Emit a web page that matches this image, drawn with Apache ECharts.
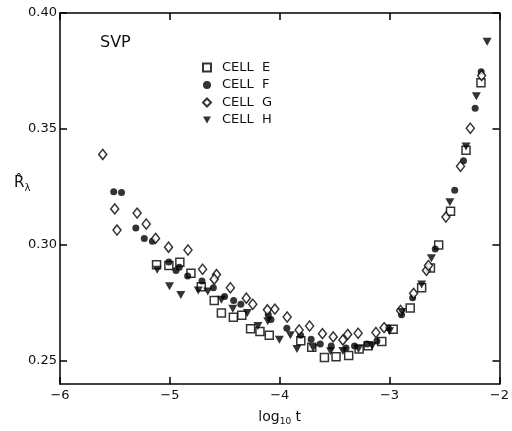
<!DOCTYPE html>
<html>
<head>
<meta charset="utf-8">
<script src="https://cdn.jsdelivr.net/npm/echarts@6/dist/echarts.min.js"></script>
<style>html,body{margin:0;padding:0;background:#fff;}#c{width:512px;height:431px;}</style>
</head>
<body>
<div id="c"></div>
<script>
// Tick labels
const xTicks = [-6, -5, -4, -3, -2];
const yTicks = [0.25, 0.30, 0.35, 0.40];
const seriesNames = ['CELL E', 'CELL F', 'CELL G', 'CELL H'];

// CELL E (open squares)
const eX = [-5.121, -5.009, -4.909, -4.808, -4.714, -4.596, -4.531, -4.422, -4.345, -4.265, -4.180, -4.095, -3.808, -3.708, -3.593, -3.487, -3.372, -3.277, -3.195, -3.071, -2.967, -2.812, -2.708, -2.628, -2.553, -2.445, -2.304, -2.168];
const eY = [0.2914, 0.2911, 0.2925, 0.2878, 0.2819, 0.2760, 0.2706, 0.2688, 0.2696, 0.2638, 0.2626, 0.2610, 0.2586, 0.2559, 0.2514, 0.2517, 0.2523, 0.2551, 0.2565, 0.2583, 0.2636, 0.2728, 0.2815, 0.2900, 0.3000, 0.3145, 0.3408, 0.3699];

// CELL F (filled circles)
const fX = [-5.511, -5.440, -5.310, -5.233, -5.159, -5.009, -4.914, -4.944, -4.838, -4.708, -4.604, -4.502, -4.419, -4.354, -4.104, -4.080, -3.935, -3.810, -3.714, -3.631, -3.531, -3.396, -3.319, -3.204, -3.115, -3.012, -2.891, -2.790, -2.584, -2.407, -2.327, -2.221, -2.166];
const fY = [0.3229, 0.3226, 0.3073, 0.3028, 0.3016, 0.2926, 0.2904, 0.2890, 0.2866, 0.2844, 0.2815, 0.2777, 0.2760, 0.2744, 0.2699, 0.2678, 0.2640, 0.2610, 0.2593, 0.2572, 0.2564, 0.2555, 0.2564, 0.2572, 0.2585, 0.2643, 0.2699, 0.2772, 0.2982, 0.3236, 0.3363, 0.3589, 0.3747];

// CELL G (open diamonds)
const gX = [-5.611, -5.502, -5.481, -5.298, -5.215, -5.130, -5.012, -4.835, -4.702, -4.575, -4.596, -4.449, -4.304, -4.245, -4.112, -4.044, -3.932, -3.823, -3.728, -3.611, -3.513, -3.425, -3.381, -3.286, -3.124, -3.050, -2.900, -2.781, -2.664, -2.646, -2.487, -2.354, -2.265, -2.162];
const gY = [0.3390, 0.3155, 0.3064, 0.3137, 0.3090, 0.3028, 0.2990, 0.2978, 0.2895, 0.2872, 0.2852, 0.2815, 0.2770, 0.2744, 0.2720, 0.2723, 0.2689, 0.2633, 0.2650, 0.2617, 0.2603, 0.2590, 0.2614, 0.2619, 0.2622, 0.2643, 0.2717, 0.2791, 0.2890, 0.2911, 0.3120, 0.3339, 0.3503, 0.3730];

// CELL H (filled down-triangles)
const hX = [-5.115, -5.003, -4.900, -4.741, -4.655, -4.531, -4.427, -4.295, -4.198, -4.109, -4.003, -3.903, -3.843, -3.696, -3.537, -3.425, -3.283, -3.159, -3.000, -2.888, -2.708, -2.619, -2.451, -2.304, -2.210, -2.112];
const hY = [0.2893, 0.2822, 0.2784, 0.2803, 0.2799, 0.2763, 0.2725, 0.2706, 0.2650, 0.2671, 0.2591, 0.2610, 0.2551, 0.2555, 0.2541, 0.2542, 0.2551, 0.2564, 0.2627, 0.2711, 0.2829, 0.2942, 0.3184, 0.3424, 0.3641, 0.3876];

const zip = (xs, ys) => xs.map((x, i) => [x, ys[i]]);
const FONT = 'DejaVu Sans';
const chart = echarts.init(document.getElementById('c'), null, {renderer: 'canvas'});

const axisLine = {show: true, lineStyle: {color: '#000', width: 1.5}};
const tickIn = {show: true, inside: true, length: 7, lineStyle: {color: '#000', width: 1.5}};

chart.setOption({
  animation: false,
  backgroundColor: '#fff',
  grid: {left: 60, right: 1, top: 13, bottom: 40, containLabel: false},
  legend: {
    orient: 'vertical', left: 202, top: 61, padding: 0, itemWidth: 8, itemHeight: 8, itemGap: 4.5,
    data: [
      {name: seriesNames[0], icon: 'rect'},
      {name: seriesNames[1], icon: 'circle'},
      {name: seriesNames[2], icon: 'diamond'},
      {name: seriesNames[3], icon: 'path://M0,0L10,0L5,9Z'}
    ],
    formatter: n => n.replace(' ', '  '),
    textStyle: {fontFamily: FONT, fontSize: 13, lineHeight: 13, color: '#111', padding: [0, 0, 0, 6]},
    selectedMode: false
  },
  xAxis: [
    {type: 'value', min: xTicks[0], max: xTicks[xTicks.length - 1], interval: 1, position: 'bottom',
     axisLine: axisLine, axisTick: tickIn, splitLine: {show: false},
     axisLabel: {fontFamily: FONT, fontSize: 13, color: '#111', margin: 5,
                 formatter: v => String(v).replace('-', '\u2212')},
     name: '{a|log}{b|10}{a| t}', nameLocation: 'middle', nameGap: 25,
     nameTextStyle: {rich: {a: {fontFamily: FONT, fontSize: 14, color: '#111'},
                            b: {fontFamily: FONT, fontSize: 9, color: '#111', verticalAlign: 'bottom', padding: [8, 0, 0, 0]}}}},
    {type: 'value', min: xTicks[0], max: xTicks[xTicks.length - 1], interval: 1, position: 'top',
     axisLine: axisLine, axisTick: tickIn, splitLine: {show: false}, axisLabel: {show: false}}
  ],
  yAxis: [
    {type: 'value', min: 0.24, max: 0.40, position: 'left',
     axisLine: axisLine, splitLine: {show: false},
     axisTick: Object.assign({}, tickIn, {customValues: yTicks}),
     axisLabel: {customValues: yTicks, fontFamily: FONT, fontSize: 13, color: '#111', margin: 3,
                 formatter: v => Number(v).toFixed(2)}},
    {type: 'value', min: 0.24, max: 0.40, position: 'right',
     axisLine: axisLine, splitLine: {show: false},
     axisTick: Object.assign({}, tickIn, {customValues: yTicks}),
     axisLabel: {show: false}}
  ],
  series: [
    {name: seriesNames[0], type: 'scatter', data: zip(eX, eY), symbol: 'rect', symbolSize: 8,
     itemStyle: {color: '#fff', borderColor: '#000', borderWidth: 1.5}},
    {name: seriesNames[1], type: 'scatter', data: zip(fX, fY), symbol: 'circle', symbolSize: 7,
     itemStyle: {color: '#000'}},
    {name: seriesNames[2], type: 'scatter', data: zip(gX, gY), symbol: 'diamond', symbolSize: [8, 10],
     itemStyle: {color: '#fff', borderColor: '#000', borderWidth: 1.5}},
    {name: seriesNames[3], type: 'scatter', data: zip(hX, hY), symbol: 'triangle', symbolRotate: 180, symbolSize: [9, 8],
     itemStyle: {color: '#000'}}
  ],
  graphic: [
    {type: 'text', left: 100, top: 35, style: {text: 'SVP', fontFamily: FONT, fontSize: 16, fill: '#111'}},
    {type: 'text', left: 14, top: 176, style: {
      text: '{r|R\u0302}{s|\u03bb}',
      rich: {r: {fontFamily: FONT, fontSize: 15, fill: '#111'},
             s: {fontFamily: FONT, fontSize: 10, fill: '#111', verticalAlign: 'bottom', padding: [10, 0, 0, 0]}}}}
  ]
});
</script>
</body>
</html>
